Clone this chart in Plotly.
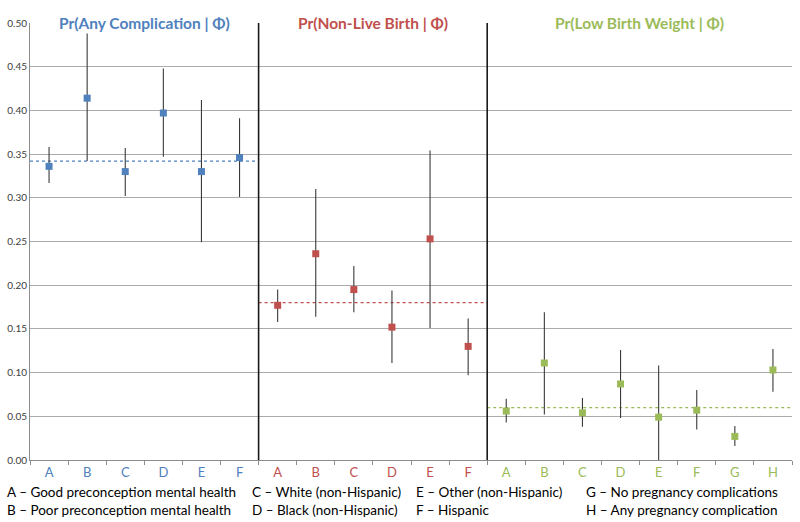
import plotly.graph_objects as go

# Data
groups = ["Pr(Any Complication | Φ)", "Pr(Non-Live Birth | Φ)", "Pr(Low Birth Weight | Φ)"]
colors = ["#4F81BD", "#C0504D", "#9BBB59"]

labels_1 = ["A", "B", "C", "D", "E", "F"]
est_1 = [0.336, 0.414, 0.330, 0.397, 0.330, 0.346]
hi_1 = [0.358, 0.488, 0.357, 0.448, 0.412, 0.391]
lo_1 = [0.317, 0.342, 0.302, 0.347, 0.249, 0.301]

labels_2 = ["A", "B", "C", "D", "E", "F"]
est_2 = [0.177, 0.236, 0.195, 0.152, 0.253, 0.130]
hi_2 = [0.195, 0.310, 0.222, 0.194, 0.354, 0.162]
lo_2 = [0.158, 0.164, 0.169, 0.111, 0.151, 0.097]

labels_3 = ["A", "B", "C", "D", "E", "F", "G", "H"]
est_3 = [0.056, 0.111, 0.054, 0.087, 0.049, 0.057, 0.027, 0.103]
hi_3 = [0.070, 0.169, 0.071, 0.126, 0.108, 0.080, 0.039, 0.127]
lo_3 = [0.043, 0.052, 0.038, 0.048, 0.000, 0.035, 0.016, 0.078]

overall = [0.342, 0.180, 0.060]

key_col_1 = ["A – Good preconception mental health", "B – Poor preconception mental health"]
key_col_2 = ["C – White (non-Hispanic)", "D – Black (non-Hispanic)"]
key_col_3 = ["E – Other (non-Hispanic)", "F – Hispanic"]
key_col_4 = ["G – No pregnancy complications", "H – Any pregnancy complication"]

FONT = "Lato, 'Open Sans', sans-serif"
W, H = 800, 522
ML, MR, MT, MB = 30, 8, 23, 62
PW = W - ML - MR
PH = H - MT - MB


def px_x(p):
    return (p - ML) / PW


def px_y(p):
    return 1 - (p - MT) / PH


series = [
    (labels_1, est_1, hi_1, lo_1),
    (labels_2, est_2, hi_2, lo_2),
    (labels_3, est_3, hi_3, lo_3),
]

fig = go.Figure()

tickvals, ticktext = [], []
start = 0
bounds = []
for g, (labs, est, hi, lo) in enumerate(series):
    xs = list(range(start, start + len(labs)))
    col = colors[g]

    # overall rate reference line
    fig.add_trace(go.Scatter(
        x=[start - 0.5, start + len(labs) - 0.5], y=[overall[g], overall[g]],
        mode="lines", line=dict(color=col, dash="dot", width=1.2),
        hoverinfo="skip", showlegend=False,
    ))

    fig.add_trace(go.Scatter(
        x=xs, y=est, mode="markers",
        marker=dict(symbol="square", size=7, color=col),
        error_y=dict(
            type="data", symmetric=False,
            array=[h - e for h, e in zip(hi, est)],
            arrayminus=[e - l for e, l in zip(est, lo)],
            color="#3a3a3a", thickness=1.1, width=0,
        ),
        showlegend=False,
    ))

    tickvals += xs
    ticktext += [f"<span style='color:{col}'>{l}</span>" for l in labs]

    fig.add_annotation(
        x=start + (len(labs) - 1) / 2, y=px_y(12), xref="x", yref="paper",
        text=f"<b>{groups[g]}</b>", showarrow=False,
        font=dict(family=FONT, size=15.5, color=col),
    )
    bounds.append(start + len(labs) - 0.5)
    start += len(labs)

# group separators
for b in bounds[:-1]:
    fig.add_shape(type="line", x0=b, x1=b, y0=0, y1=0.5, xref="x", yref="y",
                  line=dict(color="#1a1a1a", width=1.6))

# key text below the axis
key_x = [5, 250, 414, 584]
for cx, col_lines in zip(key_x, [key_col_1, key_col_2, key_col_3, key_col_4]):
    for r, txt in enumerate(col_lines):
        fig.add_annotation(
            x=px_x(cx), y=px_y(492 + 18 * r), xref="paper", yref="paper",
            text=txt, showarrow=False, xanchor="left", yanchor="middle",
            font=dict(family=FONT, size=13.5, color="#000000"),
        )

fig.update_layout(
    width=W, height=H,
    margin=dict(l=ML, r=MR, t=MT, b=MB),
    plot_bgcolor="white", paper_bgcolor="white",
    font=dict(family=FONT),
    xaxis=dict(
        range=[-0.5, start - 0.5], tickmode="array",
        tickvals=tickvals, ticktext=ticktext, ticks="",
        tickfont=dict(family=FONT, size=13),
        showgrid=False, zeroline=False,
        showline=True, linecolor="#8c8c8c", linewidth=1,
        minor=dict(tick0=-0.5, dtick=1, ticks="outside", ticklen=4,
                   tickcolor="#8c8c8c", showgrid=False),
    ),
    yaxis=dict(
        range=[0, 0.5], dtick=0.05, tickformat=".2f",
        tickfont=dict(family=FONT, size=10, color="#404040"),
        showgrid=True, gridcolor="#ababab", gridwidth=1,
        zeroline=False, showline=True, linecolor="#8c8c8c", linewidth=1,
        ticks="", ticklen=0,
    ),
)

# drop the browser's default body margin so the figure sits at the top-left
fig.write_html("out.html", config={"displayModeBar": False},
               post_script="document.body.style.margin='0';")
